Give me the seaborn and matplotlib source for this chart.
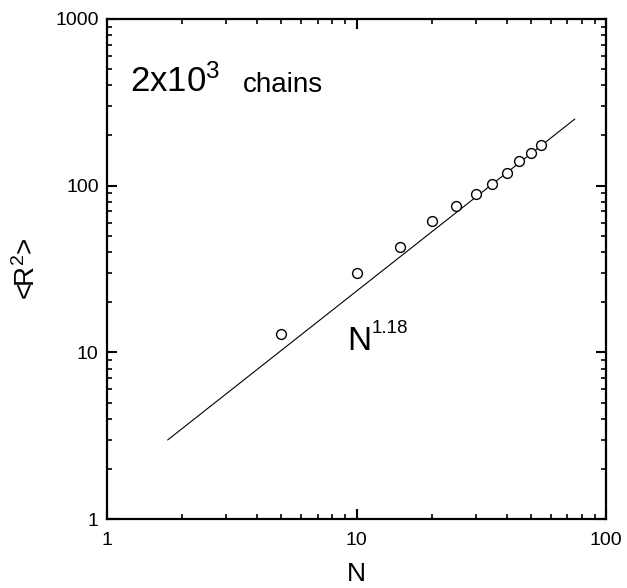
import matplotlib
matplotlib.use("Agg")
import matplotlib.pyplot as plt
import matplotlib.ticker as mticker
import seaborn as sns
import pandas as pd

# measured <R^2> vs chain length N
n_vals = [5, 10, 15, 20, 25, 30, 35, 40, 45, 50, 55]
r2_vals = [12.8, 29.8, 43.0, 61.6, 75.8, 88.7, 101.8, 118.6, 140.5, 157.7, 175.3]

# power-law fit N^1.18, end points of drawn line
fit_n = [1.75, 75.0]
fit_r2 = [2.98, 251.0]

x_ticks = [1, 10, 100]
y_ticks = [1, 10, 100, 1000]

sns.set_style("ticks")
plt.rcParams["font.family"] = ["Liberation Sans", "DejaVu Sans"]
plt.rcParams["mathtext.fontset"] = "custom"
plt.rcParams["mathtext.rm"] = "Liberation Sans"
plt.rcParams["mathtext.it"] = "Liberation Sans:italic"
plt.rcParams["mathtext.bf"] = "Liberation Sans:bold"
plt.rcParams["text.color"] = "black"
plt.rcParams["axes.labelcolor"] = "black"
plt.rcParams["xtick.color"] = "black"
plt.rcParams["ytick.color"] = "black"

df = pd.DataFrame({"N": n_vals, "R2": r2_vals})
fit = pd.DataFrame({"N": fit_n, "R2": fit_r2})

fig = plt.figure(figsize=(6.27, 5.88), dpi=100)
ax = fig.add_axes([0.1707, 0.1173, 0.7958, 0.8504])

sns.lineplot(data=fit, x="N", y="R2", color="black", linewidth=0.8, ax=ax)
sns.scatterplot(data=df, x="N", y="R2", marker="o", s=50, facecolor="white",
                edgecolor="black", linewidth=1.0, zorder=3, ax=ax)

ax.set_xscale("log")
ax.set_yscale("log")
ax.set_xlim(1, 100)
ax.set_ylim(1, 1000)

ax.set_xticks(x_ticks)
ax.set_xticklabels([str(t) for t in x_ticks])
ax.set_yticks(y_ticks)
ax.set_yticklabels([str(t) for t in y_ticks])
ax.xaxis.set_minor_locator(mticker.LogLocator(base=10, subs=range(2, 10)))
ax.yaxis.set_minor_locator(mticker.LogLocator(base=10, subs=range(2, 10)))
ax.xaxis.set_minor_formatter(mticker.NullFormatter())
ax.yaxis.set_minor_formatter(mticker.NullFormatter())

ax.tick_params(which="both", direction="in", top=True, right=True)
ax.tick_params(which="major", length=7, width=1.5, labelsize=14)
ax.tick_params(which="minor", length=3.5, width=1.2)
ax.tick_params(axis="x", which="major", pad=9)
ax.tick_params(axis="y", which="major", pad=6)

for sp in ax.spines.values():
    sp.set_visible(True)
    sp.set_linewidth(1.6)
    sp.set_color("black")

ax.set_xlabel("N", fontsize=19, labelpad=10)
ax.set_ylabel("<R$^{2}$>", fontsize=20, labelpad=10)

ax.text(0.046, 0.854, "2x10$^{3}$", transform=ax.transAxes, fontsize=25,
        va="baseline", ha="left")
ax.text(0.273, 0.854, "chains", transform=ax.transAxes, fontsize=20,
        va="baseline", ha="left")
ax.text(0.481, 0.338, "N", transform=ax.transAxes, fontsize=24,
        va="baseline", ha="left")
ax.text(0.531, 0.372, "1.18", transform=ax.transAxes, fontsize=13.5,
        va="baseline", ha="left")

fig.savefig("out.png", dpi=100, facecolor="white")
